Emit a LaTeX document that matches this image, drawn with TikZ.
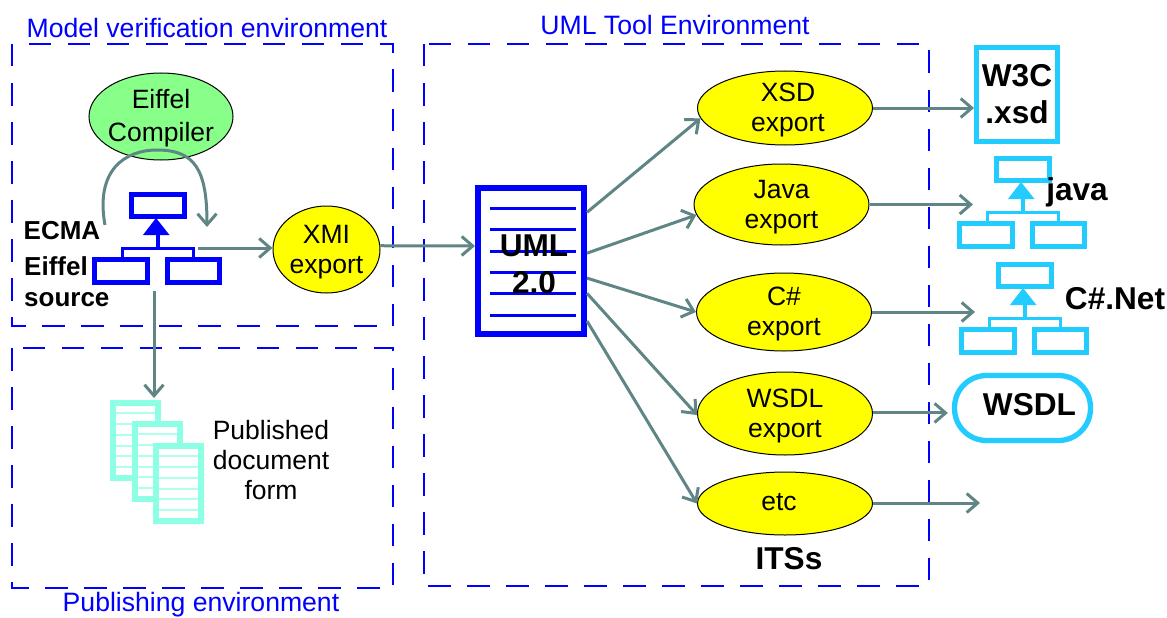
\documentclass[tikz,border=0pt]{standalone}
\usepackage{fontspec}
\setmainfont{Liberation Sans}
\usetikzlibrary{arrows.meta,shapes.geometric}
\definecolor{linkgrey}{HTML}{5F8585}
\definecolor{treeblue}{HTML}{0000FF}
\definecolor{treecyan}{HTML}{22CCFF}
\definecolor{docmint}{HTML}{8CFFE4}
\definecolor{compgreen}{HTML}{88FF88}
\definecolor{ovalyellow}{HTML}{FFFF00}
\tikzset{
  envbox/.style={draw=treeblue,line width=1.7pt,dash pattern=on 22.5pt off 16.5pt},
  envtext/.style={text=treeblue,font=\fontsize{26.6}{30}\selectfont},
  oval/.style={ellipse,draw=black,line width=1pt,fill=ovalyellow,inner sep=-8pt,align=center,
    minimum width=175pt,minimum height=76pt,font=\fontsize{26.5}{30}\selectfont},
  plain/.style={align=center,inner sep=0pt,font=\fontsize{26.5}{30}\selectfont},
  heavy/.style={align=center,inner sep=0pt,font=\bfseries\fontsize{31.6}{37}\selectfont},
  small heavy/.style={align=left,inner sep=0pt,font=\bfseries\fontsize{26}{31}\selectfont},
  link/.style={draw=linkgrey,line width=3pt,-{Straight Barb[length=11pt,width=19pt,line width=3pt]}},
}
% pushes a two line oval text down to where the picture has it
\newcommand{\lift}{\rule{0pt}{23pt}}
% class tree icon: #1 top left corner, #2 colour
\newcommand{\classtree}[2]{
\begin{scope}[shift={#1}]
\draw [#2,line width=4.8pt] (2.4,2.4) rectangle (55.6,24.6);
\draw [#2,line width=4.8pt] (-34.6,67.4) rectangle (18.6,90.6);
\draw [#2,line width=4.8pt] (38.4,67.4) rectangle (90.6,90.6);
\fill [#2] (27,26) -- (40.5,43) -- (14,43) -- cycle;
\draw [#2,line width=4pt] (29,43) -- (29,57);
\draw [#2,line width=3pt] (-7,66) -- (-7,56) -- (64,56) -- (64,66);
\end{scope}
}
% stacked page: #1 top left corner
\newcommand{\docpage}[1]{
\begin{scope}[shift={#1}]
\draw [docmint,fill=white,line width=5.6pt] (2.8,2.8) rectangle (48.2,78.2);
\foreach \yy in {13,24,35,46,56,67}
  \draw [docmint!70,line width=1.8pt] (6,\yy) -- (45,\yy);
\end{scope}
}
\begin{document}
\begin{tikzpicture}[x=1pt,y=-1pt,line cap=butt,line join=miter]
\useasboundingbox (0,0) rectangle (1167,618);
% environments
\draw [envbox] (12,44) rectangle (393,326);
\draw [envbox] (12,348) rectangle (393,588);
\draw [envbox] (424,44) rectangle (929,586);
\node [envtext] (modelenv) at (207,27.5) {Model verification environment};
\node [envtext] (umlenv) at (675,24.5) {UML Tool Environment};
\node [envtext] (pubenv) at (201,604.5) {Publishing environment};
% left side
\node [oval,fill=compgreen,minimum width=144pt,minimum height=87pt] (compiler) at (161,116.5) {\lift Eiffel\\[3pt]Compiler};
\classtree{(129,192)}{treeblue}
\node [small heavy] (ecma) at (62,231) {ECMA};
\node [small heavy,anchor=west] (source) at (24,282) {Eiffel\\source};
\node [oval,minimum width=107pt,minimum height=87pt] (xmi) at (326.5,249.5) {\lift XMI\\export};
\coordinate (loopstart) at (105,225);
\coordinate (loopend) at (207,227);
\coordinate (treeout) at (198,248);
\coordinate (treedown) at (154,291);
\coordinate (docin) at (154,398);
\draw [link] (loopstart) .. controls (95,170) and (125,150) .. (157,150) .. controls (195,150) and (207,170) .. (loopend);
\draw [link] (treeout) -- (treeout -| xmi.west);
\draw [link] (treedown) -- (docin);
\docpage{(110,400)}
\docpage{(132,421)}
\docpage{(153,443)}
\node [plain] (published) at (271,460) {Published\\document\\form};
% UML document
\node [draw=treeblue,fill=white,line width=6pt,minimum width=106pt,minimum height=146pt,inner sep=0pt] (uml) at (531,261) {};
\foreach \yy in {208,229,251,272,293,315}
  \draw [treeblue,line width=3pt] (490,\yy) -- (576,\yy);
\node [heavy] (umltext) at (534,264) {UML\\2.0};
\draw [link] (xmi.4) -- (uml.165);
% exports
\node [oval,minimum height=74pt] (xsd) at (785,108) {\lift\hspace*{6pt}XSD\\\hspace*{6pt}export};
\node [oval,minimum height=81pt] (java) at (781.5,204.5) {\lift Java\\export};
\node [oval,minimum height=78pt] (csharp) at (784,312) {\lift C\#\\export};
\node [oval,minimum height=83pt] (wsdl) at (785,413.5) {\lift WSDL\\export};
\node [oval,minimum height=63pt,text depth=4pt] (etc) at (785,503.5) {etc\hspace*{12pt}};
\node [heavy] (its) at (789,559) {ITSs};
\draw [link] (uml.41) -- (xsd.187);
\draw [link] (uml.8) -- (java.187);
\draw [link] (uml.-17) -- (csharp.west);
\draw [link] (uml.-30) -- (wsdl.181);
\draw [link] (uml.-47) -- (etc.west);
% targets
\node [heavy,draw=treecyan,line width=5pt,minimum width=81pt,minimum height=94pt] (w3c) at (1017,94.5) {W3C\\.xsd};
\classtree{(994,156)}{treecyan}
\classtree{(996,262)}{treecyan}
\node [heavy] (javatext) at (1077,192) {java};
\node [heavy] (cnet) at (1115,298.5) {C\#.Net};
\node [heavy,draw=treecyan,fill=white,line width=5.3pt,rounded corners=32pt,minimum width=136pt,minimum height=65pt] (wsdlbox) at (1022.5,408) {};
\node [heavy] (wsdltext) at (1029.5,404.5) {WSDL};
\coordinate (javaend) at (973,204.5);
\coordinate (csharpend) at (975,312);
\coordinate (etcend) at (980,503);
\draw [link] (xsd.east) -- (xsd.east -| w3c.west);
\draw [link] (java.east) -- (javaend);
\draw [link] (csharp.east) -- (csharpend);
\draw [link,shorten >=4pt] (wsdlbox.184 -| wsdl.east) -- (wsdlbox.184);
\draw [link] (etcend -| etc.east) -- (etcend);
\end{tikzpicture}
\end{document}
